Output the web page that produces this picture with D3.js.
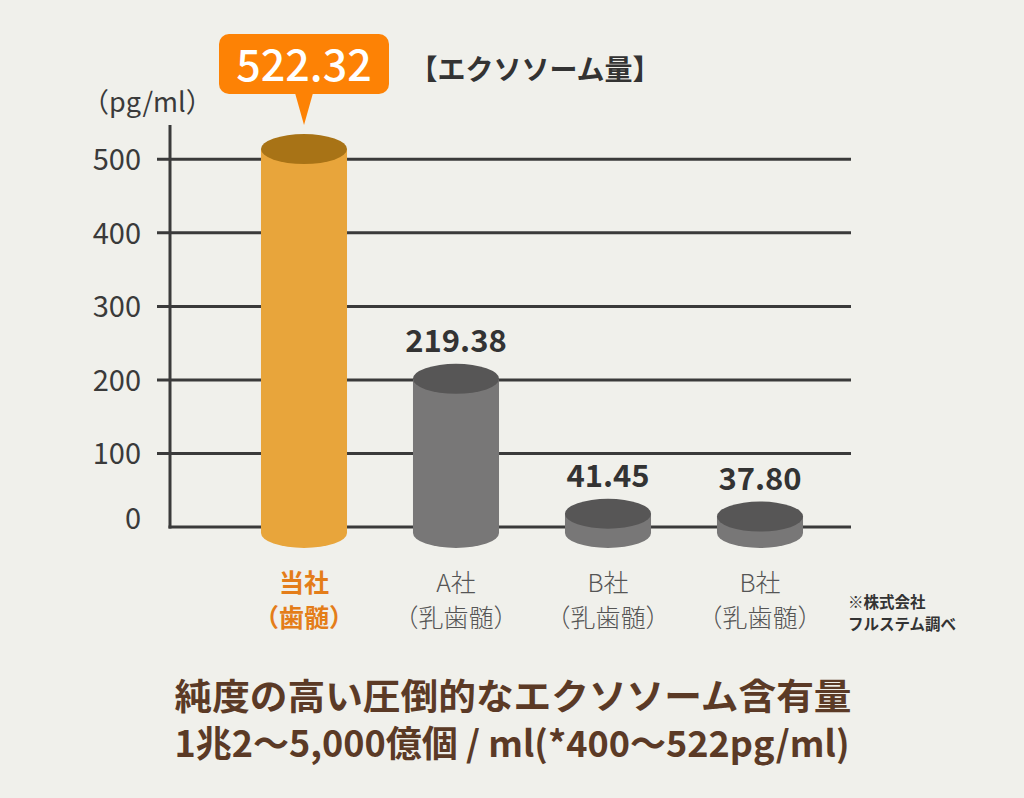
<!DOCTYPE html>
<html><head><meta charset="utf-8">
<script src="https://cdn.jsdelivr.net/npm/d3@7"></script>
<style>
html,body{margin:0;padding:0;background:#f0f0eb;}
svg{display:block;font-family:"Noto Sans CJK JP","Noto Sans",sans-serif;}
</style></head>
<body>
<svg id="chart" width="1024" height="798"></svg>
<script>
// ---- data ----
const categories = ["当社", "A社", "B社", "B社"];
const subLabels = ["（歯髄）", "（乳歯髄）", "（乳歯髄）", "（乳歯髄）"];
const values = [522.32, 219.38, 41.45, 37.80];
const valueLabels = ["522.32", "219.38", "41.45", "37.80"];
const yTicks = [0, 100, 200, 300, 400, 500];
const unitLabel = "（pg/ml）";
const chartTitle = "【エクソソーム量】";
const noteLines = ["※株式会社", "フルステム調べ"];
const titleLines = ["純度の高い圧倒的なエクソソーム含有量", "1兆2～5,000億個 / ml(*400～522pg/ml)"];

const svg = d3.select("#chart");
svg.append("rect").attr("width",1024).attr("height",798).attr("fill","#f0f0eb");

const y = d3.scaleLinear().domain([0, 500]).range([527, 159.3]);
// cylinder top-centre scale (as drawn in the original infographic)
const yCyl = d3.scaleLinear().domain([0, 500]).range([545.2, 166.0]);
const x = d3.scaleBand().domain(d3.range(categories.length))
  .range([228, 836]).paddingInner(0.434).paddingOuter(0.217);

const axisColor = "#3a3a3a";
// gridlines
svg.append("g").selectAll("line").data(yTicks.filter(d => d > 0)).join("line")
  .attr("x1", 157).attr("x2", 851)
  .attr("y1", d => y(d)).attr("y2", d => y(d))
  .attr("stroke", axisColor).attr("stroke-width", 3);
// baseline
svg.append("line").attr("x1", 168.5).attr("x2", 851).attr("y1", y(0)).attr("y2", y(0))
  .attr("stroke", axisColor).attr("stroke-width", 3);
// vertical axis
svg.append("line").attr("x1", 170).attr("x2", 170).attr("y1", 125).attr("y2", y(0) + 1.5)
  .attr("stroke", axisColor).attr("stroke-width", 3);
// tick labels
svg.append("g").selectAll("text").data(yTicks).join("text")
  .attr("x", 141).attr("y", d => d === 0 ? y(d) + 2 : y(d) + 11)
  .attr("text-anchor", "end").attr("font-size", 29).attr("font-weight", 400).attr("fill", "#3a3a3a")
  .text(d => d);

svg.append("text").attr("x", 82).attr("y", 112).attr("font-size", 27).attr("font-weight", 400).attr("fill", "#3a3a3a")
  .text(unitLabel);

svg.append("text").attr("x", 535).attr("y", 80).attr("text-anchor", "middle")
  .attr("font-size", 28).attr("font-weight", 700).attr("fill", "#333")
  .text(chartTitle);

// cylinders
const ry = 15, bottomCy = y(0) + 6;
const sideCol = i => i === 0 ? "#e8a53b" : "#787777";
const topCol = i => i === 0 ? "#a87316" : "#575656";
const bars = svg.append("g").selectAll("g").data(values).join("g");
bars.append("path")
  .attr("d", (d, i) => {
    const x0 = x(i), w = x.bandwidth(), rx = w / 2, tc = yCyl(d);
    return `M${x0},${tc} L${x0},${bottomCy} A${rx},${ry} 0 0 0 ${x0 + w},${bottomCy} L${x0 + w},${tc} Z`;
  })
  .attr("fill", (d, i) => sideCol(i));
bars.append("ellipse")
  .attr("cx", (d, i) => x(i) + x.bandwidth() / 2)
  .attr("cy", d => yCyl(d))
  .attr("rx", x.bandwidth() / 2).attr("ry", ry)
  .attr("fill", (d, i) => topCol(i));

// value labels (not first)
svg.append("g").selectAll("text").data(values.slice(1)).join("text")
  .attr("x", (d, i) => x(i + 1) + x.bandwidth() / 2)
  .attr("y", d => yCyl(d) - ry - 12)
  .attr("text-anchor", "middle").attr("font-size", 31).attr("font-weight", 700)
  .attr("fill", "#333").text((d, i) => valueLabels[i + 1]);

// callout for first
const cx0 = x(0) + x.bandwidth() / 2;
svg.append("rect").attr("x", cx0 - 85).attr("y", 34).attr("width", 170).attr("height", 60)
  .attr("rx", 10).attr("fill", "#fd8205");
svg.append("path").attr("d", `M${cx0 - 9},93 L${cx0 + 9},93 L${cx0},125 Z`).attr("fill", "#fd8205");
svg.append("text").attr("x", cx0).attr("y", 81).attr("text-anchor", "middle")
  .attr("font-size", 43).attr("font-weight", 500).attr("fill", "#fff").text(valueLabels[0]);

// category labels
const cat = svg.append("g").selectAll("g").data(categories).join("g");
cat.append("text").attr("x", (d, i) => x(i) + x.bandwidth() / 2).attr("y", 592)
  .attr("text-anchor", "middle").attr("font-size", 25)
  .attr("font-weight", (d, i) => i === 0 ? 700 : 300)
  .attr("fill", (d, i) => i === 0 ? "#e47d19" : "#555").text(d => d);
cat.append("text").attr("x", (d, i) => x(i) + x.bandwidth() / 2).attr("y", 627)
  .attr("text-anchor", "middle").attr("font-size", 25)
  .attr("font-weight", (d, i) => i === 0 ? 700 : 300)
  .attr("fill", (d, i) => i === 0 ? "#e47d19" : "#555").text((d, i) => subLabels[i]);

// note
svg.append("g").selectAll("text").data(noteLines).join("text")
  .attr("x", 848).attr("y", (d, i) => 608 + i * 22)
  .attr("font-size", 15.5).attr("font-weight", 700).attr("fill", "#333").text(d => d);

// title
svg.append("text").attr("x", 513).attr("y", 710).attr("text-anchor", "middle")
  .attr("font-size", 36).attr("font-weight", 700).attr("fill", "#5b3a26")
  .attr("textLength", 677).attr("lengthAdjust", "spacingAndGlyphs").text(titleLines[0]);
svg.append("text").attr("x", 512).attr("y", 757).attr("text-anchor", "middle")
  .attr("font-size", 36).attr("font-weight", 700).attr("fill", "#5b3a26")
  .attr("textLength", 675).attr("lengthAdjust", "spacingAndGlyphs").text(titleLines[1]);
</script>
</body></html>
